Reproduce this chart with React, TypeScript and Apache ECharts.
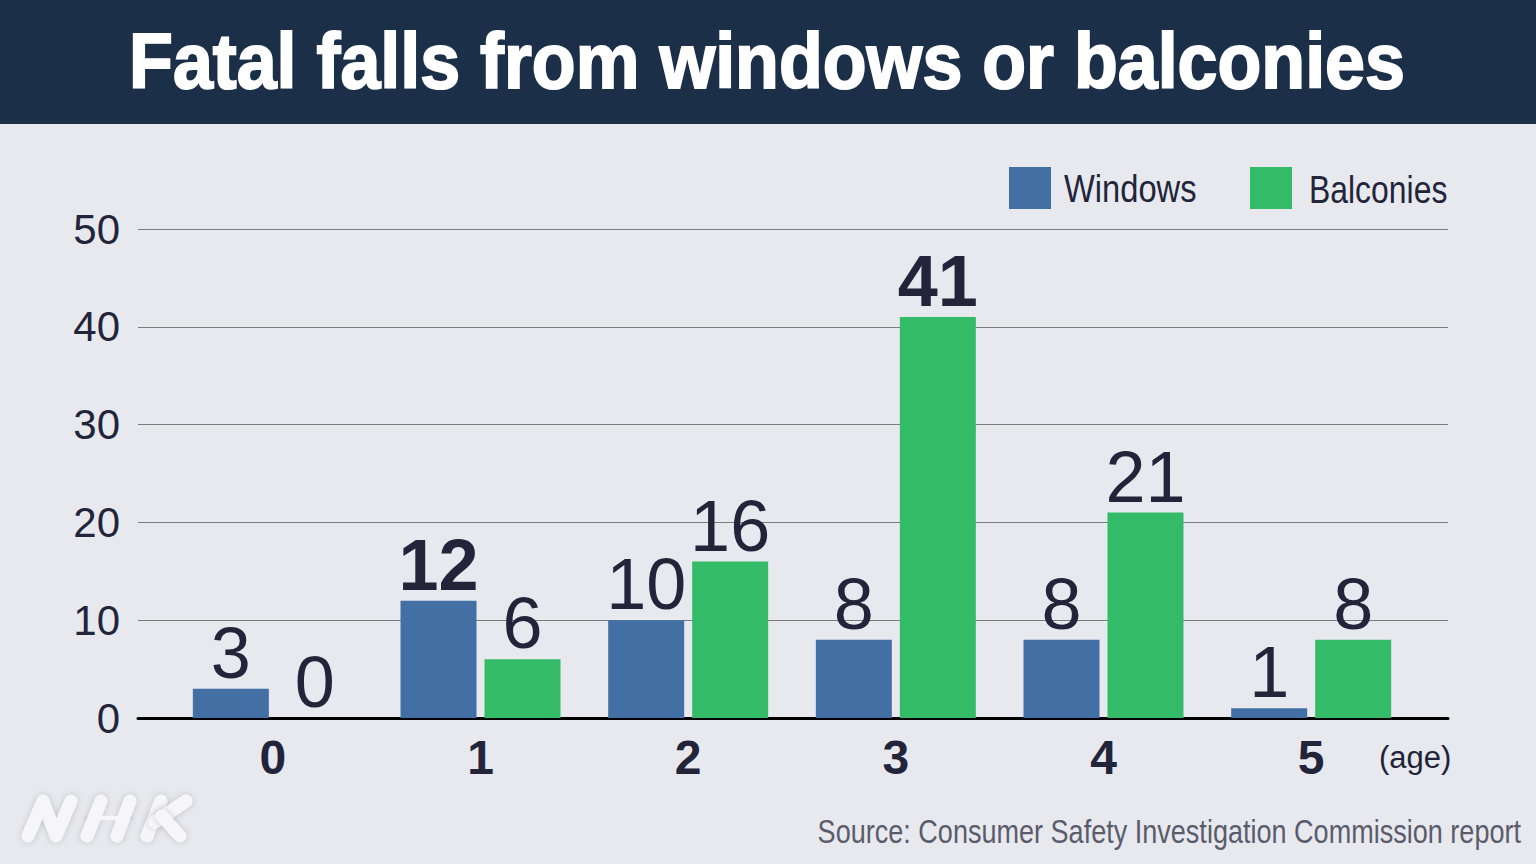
import React, { useEffect, useRef } from "react";
import * as echarts from "echarts";

const ages = ["0", "1", "2", "3", "4", "5"];
const windowsFalls = [3, 12, 10, 8, 8, 1];
const balconyFalls = [0, 6, 16, 41, 21, 8];
const seriesNames = ["Windows", "Balconies"];
const titleText = "Fatal falls from windows or balconies";
const sourceText = "Source: Consumer Safety Investigation Commission report";
const unitText = "(age)";
const yMin = 0;
const yMax = 50;
const yStep = 10;

const BLUE = "#4270a4";
const GREEN = "#33bb68";
const INK = "#22243a";
const FONT = "'Liberation Sans', Arial, Helvetica, sans-serif";

function withBoldMax(values: number[]) {
  const max = Math.max(...values);
  return values.map((v) =>
    v === max ? { value: v, label: { fontWeight: "bold" } } : { value: v }
  );
}

export default function App() {
  const ref = useRef<HTMLDivElement>(null);

  useEffect(() => {
    if (!ref.current) return;
    const chart = echarts.init(ref.current, null, { renderer: "svg" });

    const barLabel = {
      show: true,
      position: "top",
      distance: 0,
      fontSize: 72,
      lineHeight: 72,
      color: INK,
      fontFamily: FONT,
    };

    const nhkStroke = {
      stroke: "#f6f6f9",
      lineWidth: 13,
      lineCap: "round",
      lineJoin: "round",
      fill: null,
      shadowBlur: 6,
      shadowColor: "rgba(0,0,0,0.18)",
    };

    const option: any = {
      animation: false,
      backgroundColor: "#e8e9ef",
      grid: [
        { left: 169, right: 121, top: 229, bottom: 146 },
        { left: 138, right: 88, top: 229, bottom: 146 },
      ],
      xAxis: [
        {
          type: "category",
          gridIndex: 0,
          data: ages,
          axisLine: { show: false },
          axisTick: { show: false },
          splitLine: { show: false },
          axisLabel: {
            fontSize: 48,
            fontWeight: "bold",
            color: INK,
            fontFamily: FONT,
            margin: 15,
          },
        },
        {
          type: "value",
          gridIndex: 1,
          min: 0,
          max: 1,
          axisLine: { show: true, onZero: false, lineStyle: { color: "#000", width: 3 } },
          axisTick: { show: false },
          axisLabel: { show: false },
          splitLine: { show: false },
        },
      ],
      yAxis: [
        {
          type: "value",
          gridIndex: 0,
          min: yMin,
          max: yMax,
          interval: yStep,
          show: false,
          splitLine: { show: false },
        },
        {
          type: "value",
          gridIndex: 1,
          min: yMin,
          max: yMax,
          interval: yStep,
          axisLine: { show: false },
          axisTick: { show: false },
          axisLabel: {
            fontSize: 42,
            color: INK,
            fontFamily: FONT,
            margin: 18,
          },
          splitLine: { show: true, lineStyle: { color: "#7c7c7c", width: 1 } },
        },
      ],
      series: [
        {
          name: seriesNames[0],
          type: "bar",
          xAxisIndex: 0,
          yAxisIndex: 0,
          data: withBoldMax(windowsFalls),
          barWidth: 76,
          barGap: "10.5%",
          itemStyle: { color: BLUE },
          label: barLabel,
          z: 3,
        },
        {
          name: seriesNames[1],
          type: "bar",
          xAxisIndex: 0,
          yAxisIndex: 0,
          data: withBoldMax(balconyFalls),
          barWidth: 76,
          barGap: "10.5%",
          itemStyle: { color: GREEN },
          label: barLabel,
          z: 3,
        },
        {
          type: "scatter",
          xAxisIndex: 1,
          yAxisIndex: 1,
          data: [],
          silent: true,
        },
      ],
      graphic: [
        {
          type: "rect",
          z: 0,
          shape: { x: 0, y: 0, width: 1536, height: 124 },
          style: { fill: "#1b2f48" },
        },
        {
          type: "text",
          z: 10,
          x: 767,
          y: 61,
          scaleX: 0.92,
          style: {
            text: titleText,
            fill: "#ffffff",
            stroke: "#ffffff",
            lineWidth: 2,
            fontSize: 78,
            fontWeight: "bold",
            fontFamily: FONT,
            textAlign: "center",
            textVerticalAlign: "middle",
          },
        },
        {
          type: "rect",
          z: 10,
          shape: { x: 1009, y: 167, width: 42, height: 42 },
          style: { fill: BLUE },
        },
        {
          type: "text",
          z: 10,
          x: 1064,
          y: 189,
          scaleX: 0.86,
          style: {
            text: seriesNames[0],
            fill: INK,
            fontSize: 38,
            fontFamily: FONT,
            textAlign: "left",
            textVerticalAlign: "middle",
          },
        },
        {
          type: "rect",
          z: 10,
          shape: { x: 1250, y: 167, width: 42, height: 42 },
          style: { fill: GREEN },
        },
        {
          type: "text",
          z: 10,
          x: 1309,
          y: 189,
          scaleX: 0.84,
          style: {
            text: seriesNames[1],
            fill: INK,
            fontSize: 38,
            fontFamily: FONT,
            textAlign: "left",
            textVerticalAlign: "middle",
          },
        },
        {
          type: "text",
          z: 10,
          x: 1379,
          y: 757,
          style: {
            text: unitText,
            fill: INK,
            fontSize: 31,
            fontFamily: FONT,
            textAlign: "left",
            textVerticalAlign: "middle",
          },
        },
        {
          type: "text",
          z: 10,
          x: 1521,
          y: 832,
          scaleX: 0.82,
          style: {
            text: sourceText,
            fill: "#5a5c6b",
            fontSize: 33,
            fontFamily: FONT,
            textAlign: "right",
            textVerticalAlign: "middle",
          },
        },
        {
          type: "group",
          z: 10,
          children: [
            {
              type: "polyline",
              shape: { points: [[28, 836], [43, 801], [56, 836], [71, 801]] },
              style: nhkStroke,
            },
            {
              type: "polyline",
              shape: { points: [[87, 836], [101, 801]] },
              style: nhkStroke,
            },
            {
              type: "polyline",
              shape: { points: [[117, 836], [130, 801]] },
              style: nhkStroke,
            },
            {
              type: "polyline",
              shape: { points: [[94, 818.5], [108, 817.8], [123, 817.5]] },
              style: nhkStroke,
            },
            {
              type: "polyline",
              shape: { points: [[147, 836], [161, 801]] },
              style: nhkStroke,
            },
            {
              type: "polyline",
              shape: { points: [[186, 801], [155, 822]] },
              style: nhkStroke,
            },
            {
              type: "polyline",
              shape: { points: [[162, 816], [180, 836]] },
              style: nhkStroke,
            },
          ],
        },
      ],
    };

    chart.setOption(option);
    return () => chart.dispose();
  }, []);

  return (
    <div
      ref={ref}
      style={{ position: "absolute", left: 0, top: 0, width: 1536, height: 864 }}
    />
  );
}
